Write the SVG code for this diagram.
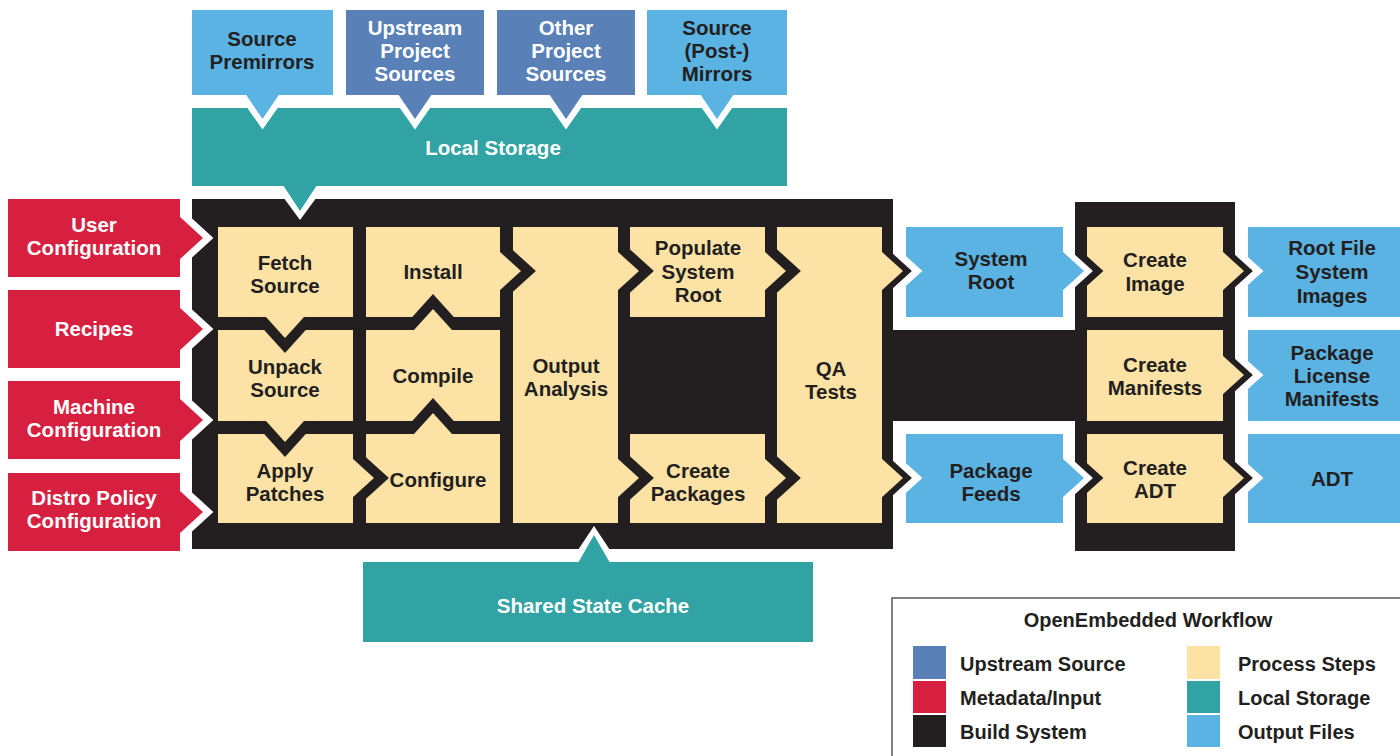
<svg xmlns="http://www.w3.org/2000/svg" width="1400" height="756" viewBox="0 0 1400 756">
<style>
.t{font-family:"Liberation Sans",Arial,sans-serif;font-weight:bold;font-size:20.5px;fill:#231f20;text-anchor:middle}
.w{fill:#ffffff}
.lg{font-size:20px;text-anchor:start}
.blk{fill:#231f20}
.red{fill:#d71f3f}
.yel{fill:#fde2a5}
.out{fill:#5bb3e4}
.up{fill:#5a80b8}
.teal{fill:#31a3a4}
.wh{fill:#ffffff}
</style>
<rect width="1400" height="756" fill="#ffffff"/>

<g id="build-system">
  <rect class="blk" x="192" y="199" width="701" height="350"/>
  <rect class="blk" x="892" y="330" width="184" height="91"/>
  <rect class="blk" x="1075" y="202" width="160" height="349"/>
</g>

<g id="user-configuration"><rect class="red" x="8" y="199" width="172" height="78"/>
  <text class="t w" x="94" y="232">User</text><text class="t w" x="94" y="255">Configuration</text></g>
<g id="recipes"><rect class="red" x="8" y="290" width="172" height="78"/>
  <text class="t w" x="94" y="336">Recipes</text></g>
<g id="machine-configuration"><rect class="red" x="8" y="381" width="172" height="78"/>
  <text class="t w" x="94" y="414">Machine</text><text class="t w" x="94" y="437">Configuration</text></g>
<g id="distro-policy-configuration"><rect class="red" x="8" y="473" width="172" height="78"/>
  <text class="t w" x="94" y="505">Distro Policy</text><text class="t w" x="94" y="528">Configuration</text></g>

<g id="source-premirrors"><rect class="out" x="192" y="10" width="141" height="85"/>
  <text class="t" x="262" y="46">Source</text><text class="t" x="262" y="69">Premirrors</text></g>
<g id="upstream-project-sources"><rect class="up" x="346" y="10" width="138" height="85"/>
  <text class="t w" x="415" y="35">Upstream</text><text class="t w" x="415" y="58">Project</text><text class="t w" x="415" y="81">Sources</text></g>
<g id="other-project-sources"><rect class="up" x="497" y="10" width="138" height="85"/>
  <text class="t w" x="566" y="35">Other</text><text class="t w" x="566" y="58">Project</text><text class="t w" x="566" y="81">Sources</text></g>
<g id="source-post-mirrors"><rect class="out" x="647" y="10" width="140" height="85"/>
  <text class="t" x="717" y="35">Source</text><text class="t" x="717" y="58">(Post-)</text><text class="t" x="717" y="81">Mirrors</text></g>

<g id="local-storage"><rect class="teal" x="192" y="108" width="595" height="78"/>
  <text class="t w" x="493" y="155">Local Storage</text></g>
<g id="shared-state-cache"><rect class="teal" x="363" y="562" width="450" height="80"/>
  <text class="t w" x="593" y="613">Shared State Cache</text></g>

<g id="fetch-source"><rect class="yel" x="218" y="227" width="135" height="90"/>
  <text class="t" x="285" y="270">Fetch</text><text class="t" x="285" y="293">Source</text></g>
<g id="unpack-source"><rect class="yel" x="218" y="330" width="135" height="91"/>
  <text class="t" x="285" y="374">Unpack</text><text class="t" x="285" y="397">Source</text></g>
<g id="apply-patches"><rect class="yel" x="218" y="434" width="135" height="89"/>
  <text class="t" x="285" y="478">Apply</text><text class="t" x="285" y="501">Patches</text></g>
<g id="install"><rect class="yel" x="366" y="227" width="134" height="90"/>
  <text class="t" x="433" y="279">Install</text></g>
<g id="compile"><rect class="yel" x="366" y="330" width="134" height="91"/>
  <text class="t" x="433" y="383">Compile</text></g>
<g id="configure"><rect class="yel" x="366" y="434" width="134" height="89"/>
  <text class="t" x="438" y="487">Configure</text></g>
<g id="output-analysis"><rect class="yel" x="513" y="227" width="105" height="296"/>
  <text class="t" x="566" y="373">Output</text><text class="t" x="566" y="396">Analysis</text></g>
<g id="populate-system-root"><rect class="yel" x="630" y="227" width="135" height="90"/>
  <text class="t" x="698" y="255">Populate</text><text class="t" x="698" y="279">System</text><text class="t" x="698" y="302">Root</text></g>
<g id="create-packages"><rect class="yel" x="630" y="434" width="135" height="89"/>
  <text class="t" x="698" y="478">Create</text><text class="t" x="698" y="501">Packages</text></g>
<g id="qa-tests"><rect class="yel" x="777" y="227" width="105" height="296"/>
  <text class="t" x="831" y="376">QA</text><text class="t" x="831" y="399">Tests</text></g>

<g id="system-root"><rect class="out" x="906" y="227" width="157" height="90"/>
  <text class="t" x="991" y="266">System</text><text class="t" x="991" y="289">Root</text></g>
<g id="package-feeds"><rect class="out" x="906" y="434" width="157" height="89"/>
  <text class="t" x="991" y="478">Package</text><text class="t" x="991" y="501">Feeds</text></g>

<g id="create-image"><rect class="yel" x="1087" y="227" width="136" height="90"/>
  <text class="t" x="1155" y="267">Create</text><text class="t" x="1155" y="291">Image</text></g>
<g id="create-manifests"><rect class="yel" x="1087" y="330" width="136" height="91"/>
  <text class="t" x="1155" y="372">Create</text><text class="t" x="1155" y="395">Manifests</text></g>
<g id="create-adt"><rect class="yel" x="1087" y="434" width="136" height="89"/>
  <text class="t" x="1155" y="475">Create</text><text class="t" x="1155" y="498">ADT</text></g>

<g id="root-file-system-images"><rect class="out" x="1248" y="227" width="152" height="90"/>
  <text class="t" x="1332" y="255">Root File</text><text class="t" x="1332" y="279">System</text><text class="t" x="1332" y="303">Images</text></g>
<g id="package-license-manifests"><rect class="out" x="1248" y="330" width="152" height="91"/>
  <text class="t" x="1332" y="360">Package</text><text class="t" x="1332" y="383">License</text><text class="t" x="1332" y="406">Manifests</text></g>
<g id="adt"><rect class="out" x="1248" y="434" width="152" height="89"/>
  <text class="t" x="1332" y="486">ADT</text></g>

<g id="connectors">
  <!-- process steps, yellow to yellow -->
  <polygon class="blk" points="252.5,317 285,352.9 317.5,317"/><polygon class="yel" points="265.1,316 285,338 304.9,316"/>
  <polygon class="blk" points="252.5,421 285,456.9 317.5,421"/><polygon class="yel" points="265.1,420 285,442 304.9,420"/>
  <polygon class="blk" points="400.5,434 433,398.1 465.5,434"/><polygon class="yel" points="413.1,435 433,413 452.9,435"/>
  <polygon class="blk" points="400.5,330 433,294.1 465.5,330"/><polygon class="yel" points="413.1,331 433,309 452.9,331"/>
  <polygon class="blk" points="353,445.5 388.9,478 353,510.5"/><polygon class="yel" points="352,458.1 374,478 352,497.9"/>
  <polygon class="blk" points="500,238.5 535.9,271 500,303.5"/><polygon class="yel" points="499,251.1 521,271 499,290.9"/>
  <polygon class="blk" points="618,238.5 653.9,271 618,303.5"/><polygon class="yel" points="617,251.1 639,271 617,290.9"/>
  <polygon class="blk" points="618,445.5 653.9,478 618,510.5"/><polygon class="yel" points="617,458.1 639,478 617,497.9"/>
  <polygon class="blk" points="765,238.5 800.9,271 765,303.5"/><polygon class="yel" points="764,251.1 786,271 764,290.9"/>
  <polygon class="blk" points="765,445.5 800.9,478 765,510.5"/><polygon class="yel" points="764,458.1 786,478 764,497.9"/>
  <!-- QA to outputs -->
  <polygon class="wh" points="893,244.4 922.4,271 893,297.6"/><polygon class="blk" points="882,243.9 911.9,271 882,298.1"/><polygon class="yel" points="881,251.1 903,271 881,290.9"/>
  <polygon class="wh" points="893,451.4 922.4,478 893,504.6"/><polygon class="blk" points="882,450.9 911.9,478 882,505.1"/><polygon class="yel" points="881,458.1 903,478 881,497.9"/>
  <!-- outputs into image stage -->
  <polygon class="blk" points="1076,246.2 1103.4,271 1076,295.8"/><polygon class="wh" points="1063,243.9 1092.9,271 1063,298.1"/><polygon class="out" points="1062,251.1 1084,271 1062,290.9"/>
  <polygon class="blk" points="1076,453.2 1103.4,478 1076,502.8"/><polygon class="wh" points="1063,450.9 1092.9,478 1063,505.1"/><polygon class="out" points="1062,458.1 1084,478 1062,497.9"/>
  <!-- image stage to final outputs -->
  <polygon class="wh" points="1235,245.3 1263.4,271 1235,296.7"/><polygon class="blk" points="1223,243.9 1252.9,271 1223,298.1"/><polygon class="yel" points="1222,251.1 1244,271 1222,290.9"/>
  <polygon class="wh" points="1235,349.3 1263.4,375 1235,400.7"/><polygon class="blk" points="1223,347.9 1252.9,375 1223,402.1"/><polygon class="yel" points="1222,355.1 1244,375 1222,394.9"/>
  <polygon class="wh" points="1235,452.3 1263.4,478 1235,503.7"/><polygon class="blk" points="1223,450.9 1252.9,478 1223,505.1"/><polygon class="yel" points="1222,458.1 1244,478 1222,497.9"/>
  <!-- metadata inputs -->
  <polygon class="wh" points="180,207.5 213.4,238 180,268.5"/><polygon class="red" points="179,216.1 203,238 179,259.9"/>
  <polygon class="wh" points="180,298.5 213.4,329 180,359.5"/><polygon class="red" points="179,307.1 203,329 179,350.9"/>
  <polygon class="wh" points="180,389.5 213.4,420 180,450.5"/><polygon class="red" points="179,398.1 203,420 179,441.9"/>
  <polygon class="wh" points="180,481.5 213.4,512 180,542.5"/><polygon class="red" points="179,490.1 203,512 179,533.9"/>
  <!-- sources into local storage -->
  <polygon class="wh" points="238.2,95 262.5,129.4 286.8,95"/><polygon class="out" points="245.5,94 262.5,119 279.5,94"/>
  <polygon class="wh" points="390.7,95 415,129.4 439.3,95"/><polygon class="up" points="398,94 415,119 432,94"/>
  <polygon class="wh" points="541.7,95 566,129.4 590.3,95"/><polygon class="up" points="549,94 566,119 583,94"/>
  <polygon class="wh" points="692.7,95 717,129.4 741.3,95"/><polygon class="out" points="700,94 717,119 734,94"/>
  <!-- local storage to fetch -->
  <polygon class="wh" points="275,186 300,220 325,186"/><polygon class="teal" points="283,185 300,211 317,185"/>
  <!-- shared state cache to output analysis -->
  <polygon class="wh" points="570,562 594,526 618,562"/><polygon class="teal" points="578,563 594,535 610,563"/>
</g>

<g id="legend">
  <rect x="892" y="598" width="530" height="180" fill="#ffffff" stroke="#5a5a5a" stroke-width="1.5"/>
  <text class="t" x="1148" y="627" style="font-size:20px">OpenEmbedded Workflow</text>
  <rect class="up" x="913" y="646" width="33" height="33"/>
  <rect class="red" x="913" y="681" width="33" height="32"/>
  <rect class="blk" x="913" y="715" width="33" height="32"/>
  <rect class="yel" x="1187" y="646" width="33" height="33"/>
  <rect class="teal" x="1187" y="681" width="33" height="32"/>
  <rect class="out" x="1187" y="715" width="33" height="32"/>
  <text class="t lg" x="960" y="671">Upstream Source</text>
  <text class="t lg" x="960" y="705">Metadata/Input</text>
  <text class="t lg" x="960" y="739">Build System</text>
  <text class="t lg" x="1238" y="671">Process Steps</text>
  <text class="t lg" x="1238" y="705">Local Storage</text>
  <text class="t lg" x="1238" y="739">Output Files</text>
</g>
</svg>
